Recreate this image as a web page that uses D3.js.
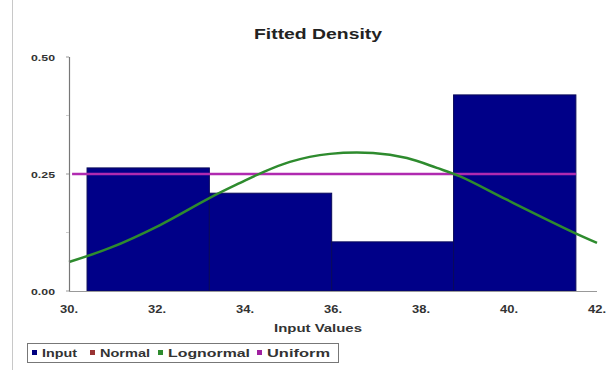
<!DOCTYPE html>
<html>
<head>
<meta charset="utf-8">
<script src="https://cdn.jsdelivr.net/npm/d3@7"></script>
<style>
  html, body { margin: 0; padding: 0; background: #fff; }
  svg { display: block; font-family: "Liberation Sans", Arial, sans-serif; }
</style>
</head>
<body>
<svg id="chart" width="610" height="370"></svg>
<script>
// Histogram bins of the input data (edges and density heights)
const binEdges = [30.41, 33.19, 35.97, 38.74, 41.52];
const inputDensity = [0.263, 0.209, 0.105, 0.419];

// Fitted lognormal density curve
const lognormalX = [30.0, 30.93, 32.07, 33.2, 33.89, 34.34, 35.02, 35.93, 36.91, 37.68, 38.36, 38.89, 39.95, 41.45, 42.0];
const lognormalY = [0.062, 0.092, 0.141, 0.199, 0.231, 0.251, 0.276, 0.293, 0.295, 0.284, 0.263, 0.245, 0.195, 0.126, 0.103];

// Fitted uniform density
const uniformRange = [30.07, 41.52];
const uniformValue = 0.25;

// Axis ticks and labels
const xTicks = [30, 32, 34, 36, 38, 40, 42];
const xTickLabels = ["30.", "32.", "34.", "36.", "38.", "40.", "42."];
const yTicks = [0, 0.25, 0.5];
const yTickLabels = ["0.00", "0.25", "0.50"];
const yMinorTicks = [0.125, 0.375];

const legendNames = ["Input", "Normal", "Lognormal", "Uniform"];
const legendColors = ["#000080", "#993333", "#2e8b2e", "#a020a0"];

const svg = d3.select("#chart");

const x = d3.scaleLinear().domain([30, 42]).range([69, 597]);
const y = d3.scaleLinear().domain([0, 0.5]).range([291, 57]);

// outer frame edge on the left
svg.append("line")
  .attr("x1", 12.5).attr("x2", 12.5).attr("y1", 0).attr("y2", 370)
  .attr("stroke", "#c8c8c8").attr("stroke-width", 1);

// title
svg.append("text")
  .attr("x", 318).attr("y", 39)
  .attr("text-anchor", "middle")
  .attr("font-size", 15.5).attr("font-weight", "bold")
  .attr("fill", "#222")
  .attr("textLength", 128).attr("lengthAdjust", "spacingAndGlyphs")
  .text("Fitted Density");

// histogram bars
const bins = inputDensity.map((v, i) => ({ x0: binEdges[i], x1: binEdges[i + 1], v }));
svg.append("g").selectAll("rect")
  .data(bins).join("rect")
  .attr("x", d => x(d.x0))
  .attr("width", d => x(d.x1) - x(d.x0))
  .attr("y", d => y(d.v))
  .attr("height", d => y(0) - y(d.v))
  .attr("fill", "#000088")
  .attr("stroke", "#0a0a5a")
  .attr("stroke-width", 1);

// uniform fit
svg.append("line")
  .attr("x1", x(uniformRange[0])).attr("x2", x(uniformRange[1]))
  .attr("y1", y(uniformValue)).attr("y2", y(uniformValue))
  .attr("stroke", "#b02ab0").attr("stroke-width", 2.5);

// lognormal fit
const pts = lognormalX.map((v, i) => [v, lognormalY[i]]);
svg.append("path")
  .datum(pts)
  .attr("fill", "none")
  .attr("stroke", "#2e8b2e")
  .attr("stroke-width", 2.5)
  .attr("d", d3.line().x(d => x(d[0])).y(d => y(d[1])).curve(d3.curveCatmullRom.alpha(0.5)));

// y axis
svg.append("line")
  .attr("x1", 69.5).attr("x2", 69.5).attr("y1", y(0.5)).attr("y2", y(0))
  .attr("stroke", "#777").attr("stroke-width", 1.2);
svg.append("g").selectAll("line")
  .data(yMinorTicks).join("line")
  .attr("x1", 66).attr("x2", 69).attr("y1", d => y(d)).attr("y2", d => y(d))
  .attr("stroke", "#ccc");
svg.append("g").selectAll("line")
  .data(yTicks).join("line")
  .attr("x1", 66).attr("x2", 69).attr("y1", d => y(d)).attr("y2", d => y(d))
  .attr("stroke", "#999");
svg.append("g").selectAll("text")
  .data(yTicks).join("text")
  .attr("x", 55).attr("y", d => y(d) + 3.5)
  .attr("text-anchor", "end")
  .attr("font-size", 9.5).attr("font-weight", "bold").attr("fill", "#333")
  .attr("textLength", 24).attr("lengthAdjust", "spacingAndGlyphs")
  .text((d, i) => yTickLabels[i]);

// x axis
svg.append("line")
  .attr("x1", 69).attr("x2", 597).attr("y1", 291.5).attr("y2", 291.5)
  .attr("stroke", "#999").attr("stroke-width", 1.2);
svg.append("g").selectAll("text")
  .data(xTicks).join("text")
  .attr("x", d => x(d)).attr("y", 313)
  .attr("text-anchor", "middle")
  .attr("font-size", 10).attr("font-weight", "bold").attr("fill", "#333")
  .attr("textLength", 18).attr("lengthAdjust", "spacingAndGlyphs")
  .text((d, i) => xTickLabels[i]);

svg.append("text")
  .attr("x", 318).attr("y", 332)
  .attr("text-anchor", "middle")
  .attr("font-size", 10.5).attr("font-weight", "bold").attr("fill", "#333")
  .attr("textLength", 88).attr("lengthAdjust", "spacingAndGlyphs")
  .text("Input Values");

// legend
const lg = svg.append("g");
lg.append("rect")
  .attr("x", 27.5).attr("y", 343.5).attr("width", 311).attr("height", 19)
  .attr("fill", "#fff").attr("stroke", "#777").attr("stroke-width", 1);
const legendX = [32, 90, 158, 257];
const legendTextW = [35, 50, 82, 63];
legendNames.forEach((name, i) => {
  lg.append("rect")
    .attr("x", legendX[i]).attr("y", 350).attr("width", 5).attr("height", 5)
    .attr("fill", legendColors[i]);
  lg.append("text")
    .attr("x", legendX[i] + 10).attr("y", 357)
    .attr("font-size", 11).attr("font-weight", "bold").attr("fill", "#333")
    .attr("textLength", legendTextW[i]).attr("lengthAdjust", "spacingAndGlyphs")
    .text(name);
});
</script>
</body>
</html>
